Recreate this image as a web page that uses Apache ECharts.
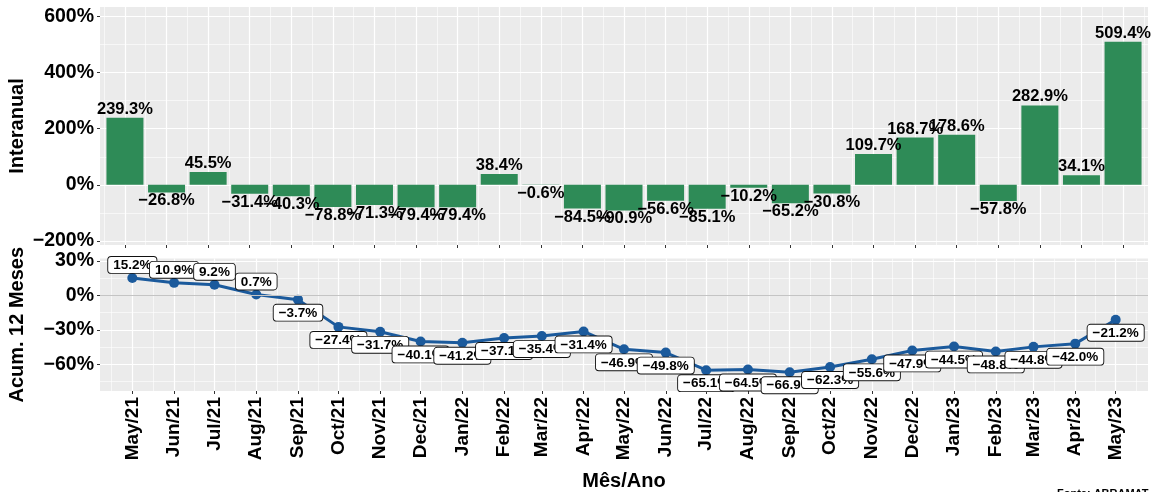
<!DOCTYPE html>
<html>
<head>
<meta charset="utf-8">
<script src="https://cdn.jsdelivr.net/npm/echarts@6/dist/echarts.min.js"></script>
<style>
  html, body { margin: 0; padding: 0; background: #fff; overflow: hidden; }
  #chart { width: 1152px; height: 492px; }
</style>
</head>
<body>
<div id="chart"></div>
<script>
// rótulos do eixo x (mês/ano) e datas correspondentes
var meses = ['May/21','Jun/21','Jul/21','Aug/21','Sep/21','Oct/21','Nov/21','Dec/21',
             'Jan/22','Feb/22','Mar/22','Apr/22','May/22','Jun/22','Jul/22','Aug/22',
             'Sep/22','Oct/22','Nov/22','Dec/22','Jan/23','Feb/23','Mar/23','Apr/23','May/23'];
var datas = ['2021-05-01','2021-06-01','2021-07-01','2021-08-01','2021-09-01','2021-10-01',
             '2021-11-01','2021-12-01','2022-01-01','2022-02-01','2022-03-01','2022-04-01',
             '2022-05-01','2022-06-01','2022-07-01','2022-08-01','2022-09-01','2022-10-01',
             '2022-11-01','2022-12-01','2023-01-01','2023-02-01','2023-03-01','2023-04-01',
             '2023-05-01'];

// variação interanual (%)
var interanual = [239.3, -26.8, 45.5, -31.4, -40.3, -78.8, -71.3, -79.4, -79.4, 38.4, -0.6, -84.5,
                  -90.9, -56.6, -85.1, -10.2, -65.2, -30.8, 109.7, 168.7, 178.6, -57.8, 282.9, 34.1, 509.4];
// acumulado 12 meses (%)
var acum12 = [15.2, 10.9, 9.2, 0.7, -3.7, -27.4, -31.7, -40.1, -41.2, -37.1, -35.4, -31.4,
              -46.9, -49.8, -65.1, -64.5, -66.9, -62.3, -55.6, -47.9, -44.5, -48.8, -44.8, -42.0, -21.2];

// marcas dos eixos y
var ticksInter = [-200, 0, 200, 400, 600];
var minorInter = [-100, 100, 300, 500];
var ticksAcum = [-60, -30, 0, 30];
var minorAcum = [-75, -45, -15, 15];

var DIA = 86400000;
var FONTE = '"Liberation Sans", Arial, Helvetica, sans-serif';
var VERDE = '#2E8B57';
var AZUL = '#1B5A9C';

function pct(v, dec) {
    var s = dec ? Math.abs(v).toFixed(1) : String(Math.abs(v));
    return (v < 0 ? '\u2212' : '') + s + '%';
}

var tempos = datas.map(function (d) { return Date.parse(d + 'T00:00:00Z'); });
var rotuloPorTempo = {};
tempos.forEach(function (t, i) { rotuloPorTempo[t] = meses[i]; });
var indices = meses.map(function (m, i) { return i; });
var meiosIdx = [-0.5].concat(indices.map(function (i) { return i + 0.5; }));
// linhas secundárias do eixo de datas: pontos médios entre meses
var meiosTempo = [];
for (var i = 0; i < tempos.length - 1; i++) meiosTempo.push((tempos[i] + tempos[i + 1]) / 2);
meiosTempo.unshift(tempos[0] - (tempos[1] - tempos[0]) / 2);
meiosTempo.push(tempos[tempos.length - 1] + (tempos[tempos.length - 1] - tempos[tempos.length - 2]) / 2);

var grade = { color: '#fff', width: 1.2 };
var gradeMenor = { color: '#fff', width: 0.6 };
var tick = { show: true, length: 3, lineStyle: { color: '#333', width: 1 } };
var semLinha = { show: false, onZero: false };

var myChart = echarts.init(document.getElementById('chart'));

var option = {
    animation: false,
    textStyle: { fontFamily: FONTE },
    grid: [
        { left: 100, right: 4, top: 7, height: 238, show: true, backgroundColor: '#EBEBEB', borderWidth: 0,
          outerBoundsMode: 'none', containLabel: false },
        { left: 100, right: 4, top: 258.5, height: 132.5, show: true, backgroundColor: '#EBEBEB', borderWidth: 0,
          outerBoundsMode: 'none', containLabel: false }
    ],
    xAxis: [
        { // painel superior, linhas principais
            type: 'value', gridIndex: 0, min: -0.6, max: 24.6, position: 'bottom',
            axisLine: semLinha,
            axisTick: Object.assign({ customValues: indices }, tick),
            axisLabel: { show: false, customValues: indices },
            splitLine: { show: true, lineStyle: grade }
        },
        { // painel superior, linhas secundárias
            type: 'value', gridIndex: 0, min: -0.6, max: 24.6, position: 'top',
            axisLine: semLinha,
            axisTick: { show: false, customValues: meiosIdx },
            axisLabel: { show: false, customValues: meiosIdx },
            splitLine: { show: true, lineStyle: gradeMenor }
        },
        { // painel inferior, datas
            type: 'value', gridIndex: 1, position: 'bottom',
            min: tempos[0] - 24 * DIA, max: tempos[tempos.length - 1] + 24 * DIA,
            axisLine: semLinha,
            axisTick: Object.assign({ customValues: tempos }, tick),
            axisLabel: {
                customValues: tempos, rotate: 90, margin: 6,
                fontSize: 19, fontWeight: 'bold', color: '#000',
                formatter: function (v) { return rotuloPorTempo[v] || ''; }
            },
            splitLine: { show: true, lineStyle: grade },
            name: 'Mês/Ano', nameLocation: 'middle', nameGap: 80,
            nameTextStyle: { fontSize: 20, fontWeight: 'bold', color: '#000' }
        },
        {
            type: 'value', gridIndex: 1, position: 'top',
            min: tempos[0] - 24 * DIA, max: tempos[tempos.length - 1] + 24 * DIA,
            axisLine: semLinha,
            axisTick: { show: false, customValues: meiosTempo },
            axisLabel: { show: false, customValues: meiosTempo },
            splitLine: { show: true, lineStyle: gradeMenor }
        }
    ],
    yAxis: [
        {
            type: 'value', gridIndex: 0, min: -214, max: 633, position: 'left',
            axisLine: semLinha,
            axisTick: Object.assign({ customValues: ticksInter }, tick),
            axisLabel: {
                customValues: ticksInter, margin: 6,
                fontSize: 19.5, fontWeight: 'bold', color: '#000',
                formatter: function (v) { return pct(v, false); }
            },
            splitLine: { show: true, lineStyle: grade },
            name: 'Interanual', nameLocation: 'middle', nameGap: 73, nameMoveOverlap: false,
            nameTextStyle: { fontSize: 20, fontWeight: 'bold', color: '#000' }
        },
        {
            type: 'value', gridIndex: 0, min: -214, max: 633, position: 'right',
            axisLine: semLinha,
            axisTick: { show: false, customValues: minorInter },
            axisLabel: { show: false, customValues: minorInter },
            splitLine: { show: true, lineStyle: gradeMenor }
        },
        {
            type: 'value', gridIndex: 1, min: -83.2, max: 32.1, position: 'left',
            axisLine: semLinha,
            axisTick: Object.assign({ customValues: ticksAcum }, tick),
            axisLabel: {
                customValues: ticksAcum, margin: 6,
                fontSize: 19.5, fontWeight: 'bold', color: '#000',
                formatter: function (v) { return pct(v, false); }
            },
            splitLine: { show: true, lineStyle: grade },
            name: 'Acum. 12 Meses', nameLocation: 'middle', nameGap: 73, nameMoveOverlap: false,
            nameTextStyle: { fontSize: 20, fontWeight: 'bold', color: '#000' }
        },
        {
            type: 'value', gridIndex: 1, min: -83.2, max: 32.1, position: 'right',
            axisLine: semLinha,
            axisTick: { show: false, customValues: minorAcum },
            axisLabel: { show: false, customValues: minorAcum },
            splitLine: { show: true, lineStyle: gradeMenor }
        }
    ],
    series: [
        {
            type: 'bar', xAxisIndex: 0, yAxisIndex: 0,
            barWidth: 37,
            itemStyle: { color: VERDE },
            label: {
                show: true, distance: 0,
                fontSize: 16.5, fontWeight: 'bold', color: '#000', fontFamily: FONTE,
                formatter: function (p) { return pct(p.value[1], true); }
            },
            data: interanual.map(function (v, i) {
                return { value: [i, v], label: { position: v >= 0 ? 'top' : 'bottom' } };
            })
        },
        {
            type: 'line', xAxisIndex: 2, yAxisIndex: 2,
            lineStyle: { color: AZUL, width: 3 },
            itemStyle: { color: AZUL },
            symbol: 'circle', symbolSize: 10,
            label: {
                show: true, distance: 0,
                fontSize: 13.5, fontWeight: 'bold', color: '#000', fontFamily: FONTE,
                backgroundColor: '#fff', borderColor: '#111', borderWidth: 0.9, borderRadius: 3,
                padding: [2, 5, 1, 5], lineHeight: 13,
                formatter: function (p) { return pct(p.value[1], true); }
            },
            markLine: {
                silent: true, symbol: 'none', label: { show: false },
                lineStyle: { color: '#C4C4C4', width: 1.2, type: 'solid' },
                data: [{ yAxis: 0 }]
            },
            data: acum12.map(function (v, i) {
                return { value: [tempos[i], v], label: { position: v >= 0 ? 'top' : 'bottom' } };
            })
        }
    ],
    graphic: [
        {
            type: 'text', left: 1057, top: 488,
            style: { text: 'Fonte: ABRAMAT', font: 'bold 11px ' + FONTE, fill: '#000' }
        }
    ]
};

myChart.setOption(option);
</script>
</body>
</html>
